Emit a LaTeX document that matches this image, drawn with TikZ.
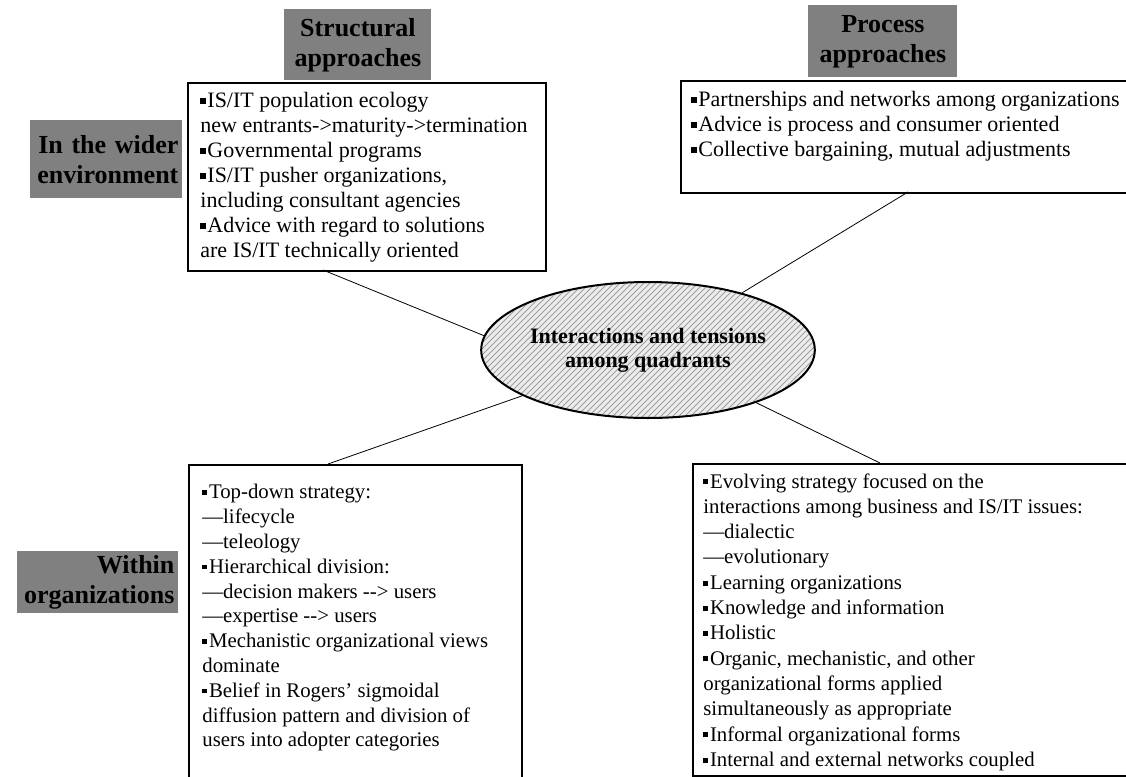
\documentclass[tikz,border=0pt]{standalone}
\usepackage{fontspec}
\setmainfont{Liberation Serif}
\usepackage{tikz}
\usetikzlibrary{positioning, shapes.geometric, patterns}
\tikzset{thick, every node/.style={inner sep=0pt}, quad/.style={draw, line width=1.2pt, anchor=north west}, head/.style={fill=black!50, anchor=north west, inner xsep=2pt, align=center, font=\fontsize{13}{15}\bfseries}, items/.style={align=left, font=\fontsize{11}{12.5}\selectfont}}
\newcommand{\qbul}{\rule[0.18em]{0.24em}{0.24em}\hspace{0.08em}}

\begin{document}
\begin{tikzpicture}[x=0.5pt, y=-0.5pt, low items/.style={items, font=\fontsize{10.4}{12.4}\selectfont}]
	\useasboundingbox (0,0) rectangle (1126,777);
	\node[head, text width=69.5pt, minimum height=35.5pt] (Structural) at (284,9) {Structural\\ approaches};
	\node[head, text width=70.5pt, minimum height=36pt] (Process) at (808,5) {Process\\ approaches};
	\node[head, text width=72pt, minimum height=39pt, align=right] (Wider) at (30,120) {In the wider\\ environment};
	\node[head, text width=76.5pt, minimum height=31pt, align=right] (Within) at (17,551) {Within\\ organizations};
	\node[quad, minimum width=179pt, minimum height=94pt] (Structural Wider) at (187,82) {};
	\node[quad, minimum width=225pt, minimum height=56pt] (Process Wider) at (680,80) {};
	\node[quad, minimum width=166.5pt, minimum height=165pt] (Structural Within) at (188,464) {};
	\node[quad, minimum width=220pt, minimum height=156pt] (Process Within) at (692,463) {};
	\node[items, below right=5pt and 6.5pt of Structural Wider.north west] (Structural Wider List) {\qbul IS/IT population ecology\\ new entrants->maturity->termination\\ \qbul Governmental programs\\ \qbul IS/IT pusher organizations,\\ including consultant agencies\\ \qbul Advice with regard to solutions\\ are IS/IT technically oriented};
	\node[items, below right=5.5pt and 5.5pt of Process Wider.north west] (Process Wider List) {\qbul Partnerships and networks among organizations\\ \qbul Advice is process and consumer oriented\\ \qbul Collective bargaining, mutual adjustments};
	\node[low items, below right=10pt and 7pt of Structural Within.north west] (Structural Within List) {\qbul Top-down strategy:\\ —lifecycle\\ —teleology\\ \qbul Hierarchical division:\\ —decision makers -{}-{}> users\\ —expertise -{}-{}> users\\ \qbul Mechanistic organizational views\\ dominate\\ \qbul Belief in Rogers’ sigmoidal\\ diffusion pattern and division of\\ users into adopter categories};
	\node[low items, font=\fontsize{10.4}{12.65}\selectfont, below right=5pt and 5.5pt of Process Within.north west] (Process Within List) {\qbul Evolving strategy focused on the\\ interactions among business and IS/IT issues:\\ —dialectic\\ —evolutionary\\ \qbul Learning organizations\\ \qbul Knowledge and information\\ \qbul Holistic\\ \qbul Organic, mechanistic, and other\\ organizational forms applied\\ simultaneously as appropriate\\ \qbul Informal organizational forms\\ \qbul Internal and external networks coupled};
	\node[ellipse, draw, line width=1pt, minimum width=145pt, minimum height=68pt, preaction={fill=gray!15}, pattern=north east lines, pattern color=gray!75, align=center, font=\fontsize{11}{12}\bfseries] (Interactions) at (648,350) {Interactions and tensions\\ among quadrants};
	\coordinate (Structural Wider Foot) at (323,270);
	\coordinate (Process Wider Foot) at (908,192);
	\coordinate (Structural Within Head) at (328,464);
	\coordinate (Process Within Head) at (880,463);
	\draw
		(Structural Wider Foot) edge (Interactions.175)
		(Interactions) edge (Process Wider Foot)
		(Interactions.200) edge (Structural Within Head)
		(Interactions) edge (Process Within Head);
\end{tikzpicture}
\end{document}
